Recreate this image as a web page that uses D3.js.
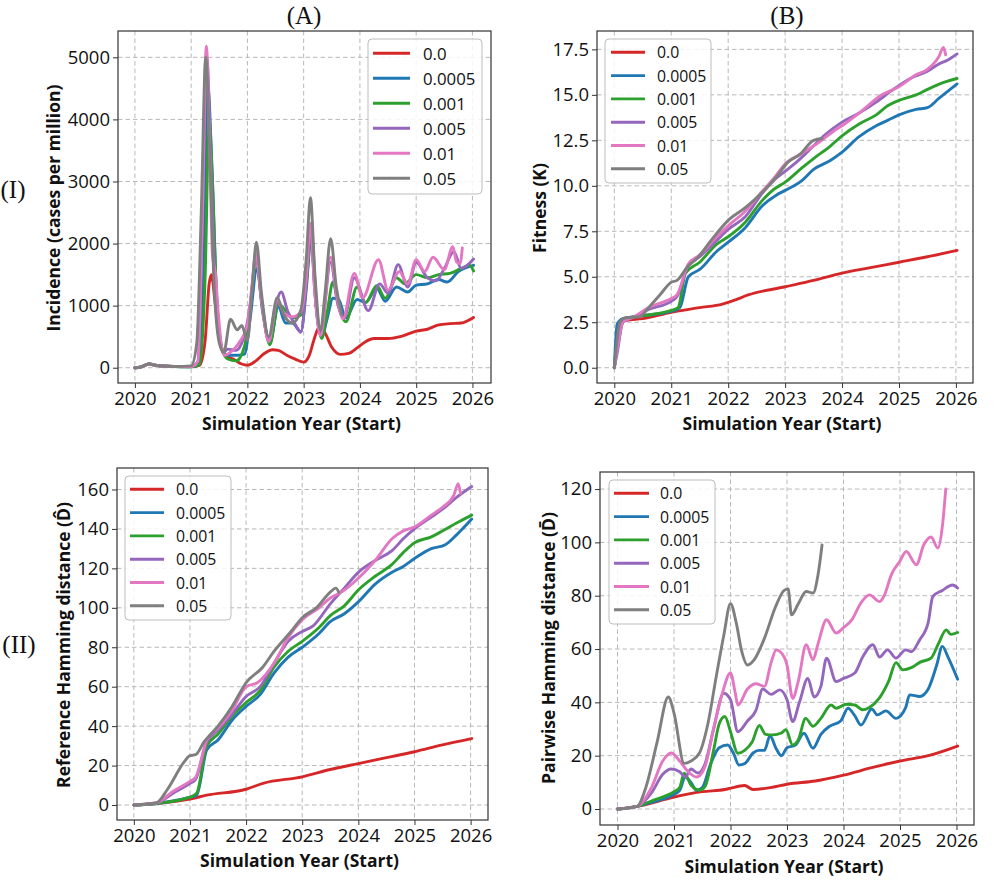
<!DOCTYPE html>
<html>
<head>
<meta charset="utf-8">
<style>
  body { margin: 0; background: #fff; }
  text { font-family: 'Open Sans', 'Noto Sans', sans-serif; fill: #111; }
</style>
</head>
<body>
<script src="https://d3js.org/d3.v7.min.js"></script>
<script>
const rates = ['0.0', '0.0005', '0.001', '0.005', '0.01', '0.05'];
const colors = ['#d62728', '#1f77b4', '#2ca02c', '#9467bd', '#e377c2', '#7f7f7f'];
const years = [2020, 2021, 2022, 2023, 2024, 2025, 2026];

// (A) incidence, cases per million  [year, value]
const incid00 = [[2020,0],[2020.1,10],[2020.25,55],[2020.4,35],[2020.7,20],[2021,20],[2021.15,40],[2021.25,450],[2021.32,1350],[2021.36,1500],[2021.42,1100],[2021.5,450],[2021.6,200],[2021.75,140],[2021.9,60],[2022,40],[2022.15,110],[2022.3,230],[2022.45,290],[2022.55,280],[2022.7,200],[2022.85,140],[2023,90],[2023.1,200],[2023.2,500],[2023.28,660],[2023.38,560],[2023.5,330],[2023.65,215],[2023.8,230],[2023.95,320],[2024.1,420],[2024.25,470],[2024.5,470],[2024.75,510],[2025,590],[2025.2,620],[2025.4,690],[2025.6,710],[2025.8,720],[2026.02,810]];
const incid0005 = [[2020,0],[2020.1,10],[2020.25,60],[2020.4,35],[2020.7,20],[2021,15],[2021.15,60],[2021.22,1500],[2021.3,4500],[2021.37,3200],[2021.45,1200],[2021.55,300],[2021.65,200],[2021.8,200],[2021.95,220],[2022.05,800],[2022.17,1600],[2022.27,900],[2022.4,420],[2022.55,980],[2022.68,720],[2022.8,720],[2022.95,580],[2023.05,1300],[2023.13,2100],[2023.22,1000],[2023.32,500],[2023.42,800],[2023.52,1120],[2023.62,1100],[2023.75,800],[2023.95,1100],[2024.1,1050],[2024.3,1280],[2024.45,1070],[2024.65,1300],[2024.85,1220],[2025,1330],[2025.2,1350],[2025.4,1420],[2025.55,1380],[2025.75,1550],[2026.02,1650]];
const incid001 = [[2020,0],[2020.1,10],[2020.25,60],[2020.4,35],[2020.7,20],[2021,15],[2021.15,50],[2021.25,1500],[2021.32,4000],[2021.38,3000],[2021.45,1200],[2021.55,300],[2021.65,140],[2021.8,110],[2021.95,350],[2022.05,1000],[2022.16,1750],[2022.25,1100],[2022.4,370],[2022.55,1030],[2022.65,950],[2022.8,800],[2022.95,850],[2023.05,1400],[2023.14,2200],[2023.22,1100],[2023.32,470],[2023.42,900],[2023.52,1380],[2023.62,1000],[2023.75,740],[2023.95,1300],[2024.1,1050],[2024.3,1320],[2024.45,1120],[2024.65,1450],[2024.8,1350],[2025,1500],[2025.2,1450],[2025.4,1500],[2025.6,1520],[2025.8,1600],[2025.95,1650],[2026.02,1560]];
const incid005 = [[2020,0],[2020.1,10],[2020.25,60],[2020.4,35],[2020.7,20],[2021,20],[2021.12,100],[2021.2,2300],[2021.28,5000],[2021.35,3300],[2021.42,1500],[2021.5,500],[2021.58,250],[2021.65,300],[2021.8,280],[2021.92,450],[2022.05,1000],[2022.15,1800],[2022.25,1100],[2022.38,430],[2022.48,900],[2022.6,1220],[2022.72,900],[2022.85,700],[2022.95,570],[2023.05,1400],[2023.12,2200],[2023.2,1200],[2023.3,520],[2023.48,1700],[2023.6,1050],[2023.72,800],[2023.9,1450],[2024.15,920],[2024.35,1350],[2024.5,1200],[2024.68,1660],[2024.85,1300],[2025,1700],[2025.2,1450],[2025.35,1400],[2025.5,1600],[2025.67,1870],[2025.8,1600],[2026.02,1750]];
const incid01 = [[2020,0],[2020.1,10],[2020.25,60],[2020.4,35],[2020.7,20],[2021,20],[2021.12,100],[2021.2,2500],[2021.27,5180],[2021.33,3500],[2021.38,1800],[2021.43,1530],[2021.48,900],[2021.55,300],[2021.6,200],[2021.7,250],[2021.85,400],[2022,700],[2022.08,1300],[2022.15,1850],[2022.25,1100],[2022.38,420],[2022.53,1100],[2022.65,880],[2022.8,820],[2022.95,900],[2023.05,1500],[2023.12,2330],[2023.2,1200],[2023.3,520],[2023.48,1780],[2023.6,1100],[2023.7,790],[2023.9,1520],[2024.05,1130],[2024.33,1740],[2024.5,1250],[2024.7,1550],[2024.85,1350],[2025,1740],[2025.15,1550],[2025.3,1780],[2025.5,1580],[2025.65,1950],[2025.72,1700],[2025.78,1680],[2025.82,1930]];
const incid05 = [[2020,0],[2020.1,10],[2020.25,60],[2020.4,35],[2020.7,20],[2021,30],[2021.1,400],[2021.18,2500],[2021.26,5000],[2021.33,3500],[2021.4,1500],[2021.5,400],[2021.58,250],[2021.7,780],[2021.82,610],[2021.9,680],[2022,440],[2022.08,1200],[2022.16,2020],[2022.25,1200],[2022.38,500],[2022.53,1130],[2022.65,850],[2022.8,720],[2022.95,930],[2023.05,1800],[2023.12,2740],[2023.2,1500],[2023.3,600],[2023.38,1200],[2023.48,2080],[2023.58,1300],[2023.68,850]];

// (B) fitness K
const fit00 = [[2020,0],[2020.1,2.2],[2020.2,2.6],[2020.5,2.7],[2021,3.05],[2021.5,3.3],[2021.9,3.5],[2022.1,3.7],[2022.35,4.0],[2023,4.45],[2023.5,4.8],[2024,5.2],[2024.5,5.5],[2025,5.8],[2025.5,6.1],[2026.02,6.45]];
const fit0005 = [[2020,0],[2020.05,2.4],[2020.15,2.7],[2020.35,2.8],[2020.6,2.9],[2021,3.1],[2021.15,3.3],[2021.3,5.0],[2021.5,5.4],[2021.8,6.4],[2022,6.9],[2022.3,7.7],[2022.6,8.9],[2022.85,9.5],[2023,9.75],[2023.3,10.3],[2023.5,10.9],[2023.8,11.4],[2024,11.85],[2024.3,12.7],[2024.6,13.3],[2024.8,13.6],[2025,13.9],[2025.3,14.2],[2025.5,14.3],[2025.7,14.8],[2026.02,15.6]];
const fit001 = [[2020,0],[2020.05,1.0],[2020.15,2.5],[2020.35,2.8],[2020.6,2.9],[2021,3.15],[2021.12,3.3],[2021.25,5.2],[2021.5,5.8],[2021.8,6.8],[2022,7.2],[2022.3,8.0],[2022.6,9.2],[2022.8,9.8],[2023,10.2],[2023.3,11.0],[2023.5,11.5],[2023.8,12.2],[2024,12.75],[2024.3,13.4],[2024.6,13.9],[2024.8,14.4],[2025,14.7],[2025.3,15.0],[2025.5,15.3],[2025.8,15.7],[2026.02,15.9]];
const fit005 = [[2020,0],[2020.05,0.8],[2020.15,2.5],[2020.35,2.8],[2020.6,3.2],[2021,3.65],[2021.1,3.9],[2021.3,5.6],[2021.5,6.1],[2021.8,7.0],[2022,7.6],[2022.3,8.3],[2022.6,9.6],[2022.8,10.3],[2023,10.8],[2023.2,11.3],[2023.5,12.2],[2023.7,12.8],[2024,13.5],[2024.3,14.0],[2024.6,14.6],[2024.9,15.3],[2025.2,15.9],[2025.5,16.3],[2025.7,16.7],[2025.85,16.9],[2026.02,17.25]];
const fit01 = [[2020,0],[2020.05,1.0],[2020.15,2.5],[2020.35,2.8],[2020.6,3.3],[2021,3.8],[2021.1,4.0],[2021.3,5.7],[2021.5,6.2],[2021.8,7.2],[2022,7.8],[2022.3,8.6],[2022.6,9.7],[2022.8,10.4],[2023,11.2],[2023.3,11.8],[2023.6,12.4],[2023.85,13.0],[2024,13.3],[2024.3,14.0],[2024.7,15.0],[2025,15.45],[2025.3,16.1],[2025.5,16.4],[2025.7,17.1],[2025.78,17.6],[2025.82,17.2]];
const fit05 = [[2020,0],[2020.1,2.5],[2020.2,2.75],[2020.45,2.8],[2020.6,3.3],[2020.8,4.0],[2021,4.7],[2021.1,4.8],[2021.3,5.6],[2021.45,6.0],[2021.7,7.0],[2022,8.1],[2022.3,8.8],[2022.45,9.2],[2022.65,9.8],[2022.85,10.5],[2023.05,11.3],[2023.25,11.7],[2023.5,12.5],[2023.65,12.6]];

// (C) reference Hamming distance
const ref00 = [[2020,0],[2020.4,0.8],[2021,3],[2021.3,5],[2022,8],[2022.3,11],[2023,14.3],[2023.5,18],[2024,21],[2024.5,24],[2025,27],[2025.5,30.5],[2026.02,33.7]];
const ref0005 = [[2020,0],[2020.4,0.8],[2021,4],[2021.12,5],[2021.3,28],[2021.5,33],[2021.75,43],[2022,50],[2022.25,56],[2022.5,67],[2022.75,75],[2023,80],[2023.3,87],[2023.5,93],[2023.75,97],[2024,103],[2024.3,112],[2024.6,118],[2024.8,121],[2025,125],[2025.3,130],[2025.55,132],[2025.75,137],[2026.02,145]];
const ref001 = [[2020,0],[2020.4,0.8],[2021,4],[2021.12,6],[2021.3,30],[2021.5,36],[2021.75,45],[2022,52],[2022.25,58],[2022.5,70],[2022.75,78],[2023,83],[2023.3,90],[2023.5,96],[2023.75,101],[2024,109],[2024.3,116],[2024.6,122],[2024.8,128],[2025,133],[2025.3,136],[2025.5,139],[2025.75,143],[2026.02,147]];
const ref005 = [[2020,0],[2020.4,1],[2020.7,6],[2021,11],[2021.1,13],[2021.3,32],[2021.5,38],[2021.75,46],[2022,55],[2022.25,60],[2022.5,72],[2022.75,83],[2023,88],[2023.2,91],[2023.5,102],[2023.75,110],[2024,118],[2024.3,124],[2024.6,129],[2024.8,135],[2025,140],[2025.3,146],[2025.5,150],[2025.75,156],[2026.02,161.5]];
const ref01 = [[2020,0],[2020.4,1],[2020.7,7],[2021,12],[2021.1,14],[2021.3,33],[2021.5,39],[2021.75,48],[2022,60],[2022.2,62],[2022.5,72],[2022.75,85],[2023,94],[2023.3,100],[2023.5,105],[2023.7,108],[2024,115],[2024.3,124],[2024.6,135],[2024.8,139],[2025,141],[2025.3,147],[2025.5,151],[2025.7,157],[2025.78,163],[2025.82,158]];
const ref05 = [[2020,0],[2020.4,1],[2020.6,8],[2020.9,22],[2021,25],[2021.1,25.5],[2021.25,32],[2021.5,40],[2021.75,50],[2022,62],[2022.3,70],[2022.5,78],[2022.8,88],[2023,95],[2023.25,100],[2023.5,108],[2023.6,110],[2023.65,108]];

// (D) pairwise Hamming distance
const pair00 = [[2020,0],[2020.35,1],[2021,4.5],[2021.5,6.5],[2021.9,7.3],[2022,7.8],[2022.25,8.8],[2022.4,7.3],[2022.7,8],[2023,9.3],[2023.5,10.5],[2024,12.7],[2024.5,15.5],[2025,18],[2025.5,20],[2026.02,23.6]];
const pair0005 = [[2020,0],[2020.35,1],[2020.6,2.5],[2021,5.5],[2021.1,7],[2021.2,12],[2021.3,10],[2021.4,7],[2021.5,8],[2021.65,17],[2021.8,23],[2021.95,24],[2022.05,21],[2022.15,16.5],[2022.25,17],[2022.4,21],[2022.5,22],[2022.6,22],[2022.7,27.5],[2022.8,23],[2022.9,20],[2023,23],[2023.15,24],[2023.3,28.4],[2023.46,22.8],[2023.6,28],[2023.75,31],[2023.95,33],[2024.08,37.8],[2024.2,35],[2024.31,31.5],[2024.5,37.5],[2024.6,35.3],[2024.75,36.8],[2024.93,34],[2025.1,38],[2025.17,42.8],[2025.35,42.2],[2025.5,45],[2025.65,54],[2025.75,61],[2025.85,57],[2026.02,48.7]];
const pair001 = [[2020,0],[2020.35,1],[2020.6,3],[2021,6.5],[2021.1,8],[2021.18,13.4],[2021.3,9],[2021.45,7.1],[2021.55,8.5],[2021.7,22],[2021.8,32],[2021.9,34.7],[2022,29],[2022.13,20.9],[2022.25,22],[2022.38,25],[2022.51,31.3],[2022.62,28],[2022.75,27.8],[2022.9,28.5],[2022.98,29.7],[2023.1,24],[2023.2,26],[2023.33,34],[2023.46,31],[2023.6,34],[2023.78,39],[2023.87,37.8],[2024.05,39.3],[2024.2,39],[2024.34,37.2],[2024.45,38],[2024.63,41.5],[2024.8,48],[2024.93,54.9],[2025.05,52.2],[2025.2,53],[2025.35,55],[2025.55,56.6],[2025.68,62],[2025.82,67.2],[2025.9,65.5],[2026.02,66.2]];
const pair005 = [[2020,0],[2020.35,1],[2020.6,6],[2020.8,13],[2020.95,15],[2021.1,14],[2021.2,12],[2021.3,15],[2021.42,13.5],[2021.55,17],[2021.7,30],[2021.88,43.4],[2022,41],[2022.13,29],[2022.3,33],[2022.45,37],[2022.57,45],[2022.72,43],[2022.87,44.7],[2023,41],[2023.1,32.8],[2023.22,40],[2023.37,49],[2023.48,42],[2023.6,46],[2023.7,56.6],[2023.87,47.8],[2024,49],[2024.2,51],[2024.34,57],[2024.52,61.6],[2024.64,57],[2024.78,59.7],[2024.93,56.6],[2025.1,59.7],[2025.2,59],[2025.35,63.5],[2025.5,70],[2025.58,79.7],[2025.75,82],[2025.93,84],[2026.02,82.9]];
const pair01 = [[2020,0],[2020.35,1],[2020.6,8],[2020.8,18],[2020.95,21],[2021.1,18],[2021.25,14],[2021.4,12],[2021.55,16],[2021.7,30],[2021.85,43],[2022,51],[2022.08,44],[2022.13,39],[2022.3,45],[2022.45,47],[2022.6,46],[2022.72,55],[2022.81,59.7],[2022.95,57],[2023,54],[2023.1,41.5],[2023.2,48],[2023.34,61.6],[2023.46,56],[2023.55,62],[2023.7,71],[2023.87,66],[2024,68],[2024.15,71],[2024.3,77],[2024.46,80.3],[2024.64,77.8],[2024.72,80],[2024.85,88],[2025,93],[2025.11,96.6],[2025.29,91.6],[2025.42,99],[2025.55,102],[2025.67,97.9],[2025.75,106],[2025.81,120]];
const pair05 = [[2020,0],[2020.35,1],[2020.5,8],[2020.7,25],[2020.9,42],[2021,36],[2021.18,17.1],[2021.3,18],[2021.45,21],[2021.6,32],[2021.75,50],[2021.88,65],[2022,77],[2022.1,70],[2022.2,59],[2022.3,54],[2022.42,56],[2022.6,64],[2022.8,76],[2022.95,82],[2023.02,82.5],[2023.08,72.8],[2023.2,77],[2023.34,81.6],[2023.46,81],[2023.55,88],[2023.62,99]];

const W = 996, H = 894;
const svg = d3.select('body').append('svg').attr('width', W).attr('height', H);

const panels = [
  { series: [incid00, incid0005, incid001, incid005, incid01, incid05],
    box: [118, 31, 491, 383], xDom: [2019.7, 2026.33], yDom: [-246, 5424],
    yTicks: d3.range(0, 5001, 1000), yFmt: d3.format('d'),
    ylabel: 'Incidence (cases per million)', yl: [53, 208], xl: 423,
    leg: { x: 368, y: 39, w: 114, h: 155, y0: 14.3, dy: 25, fs: 16.8, l0: 5, l1: 42, tx: 55 } },
  { series: [fit00, fit0005, fit001, fit005, fit01, fit05],
    box: [597, 31, 973, 383], xDom: [2019.696, 2026.3], yDom: [-0.84, 18.51],
    yTicks: d3.range(0, 17.6, 2.5), yFmt: d3.format('.1f'),
    ylabel: 'Fitness (K)', yl: [539, 208], xl: 423,
    leg: { x: 605, y: 39, w: 106, h: 144, y0: 13.3, dy: 23.3, fs: 15.8, l0: 6, l1: 40, tx: 52 } },
  { series: [ref00, ref0005, ref001, ref005, ref01, ref05],
    box: [117, 468, 488, 820], xDom: [2019.7, 2026.31], yDom: [-7.6, 170.9],
    yTicks: d3.range(0, 161, 20), yFmt: d3.format('d'),
    ylabel: 'Reference Hamming distance (D\u0302)', yl: [63, 645], xl: 860,
    leg: { x: 125, y: 476, w: 106, h: 144, y0: 13.3, dy: 23.3, fs: 15.8, l0: 5, l1: 39, tx: 51 } },
  { series: [pair00, pair0005, pair001, pair005, pair01, pair05],
    box: [600, 472, 974, 825], xDom: [2019.69, 2026.31], yDom: [-6.0, 126.4],
    yTicks: d3.range(0, 121, 20), yFmt: d3.format('d'),
    ylabel: 'Pairwise Hamming distance (D\u0304)', yl: [548, 648], xl: 866,
    leg: { x: 609, y: 480, w: 106, h: 144, y0: 13.3, dy: 23.3, fs: 15.8, l0: 5, l1: 40, tx: 51 } }
];

panels.forEach((p) => {
  const [x0, y0, x1, y1] = p.box;
  const x = d3.scaleLinear().domain(p.xDom).range([x0, x1]);
  const y = d3.scaleLinear().domain(p.yDom).range([y1, y0]);
  const g = svg.append('g');

  // grid
  g.append('g').selectAll('line.gx').data(years).enter().append('line')
    .attr('x1', (d) => x(d)).attr('x2', (d) => x(d)).attr('y1', y0).attr('y2', y1)
    .attr('stroke', '#b8b8b8').attr('stroke-width', 1).attr('stroke-dasharray', '4.5,3');
  g.append('g').selectAll('line.gy').data(p.yTicks).enter().append('line')
    .attr('x1', x0).attr('x2', x1).attr('y1', (d) => y(d)).attr('y2', (d) => y(d))
    .attr('stroke', '#b8b8b8').attr('stroke-width', 1).attr('stroke-dasharray', '4.5,3');

  // lines
  const line = d3.line().x((d) => x(d[0])).y((d) => y(d[1])).curve(d3.curveMonotoneX);
  g.append('g').selectAll('path').data(p.series).enter().append('path')
    .attr('d', line).attr('fill', 'none')
    .attr('stroke', (d, i) => colors[i]).attr('stroke-width', 2.9)
    .attr('stroke-linejoin', 'round').attr('stroke-linecap', 'round');

  // axes
  const ax = g.append('g').attr('transform', `translate(0,${y1})`)
    .call(d3.axisBottom(x).tickValues(years).tickFormat(d3.format('d')).tickSize(5).tickPadding(4));
  const ay = g.append('g').attr('transform', `translate(${x0},0)`)
    .call(d3.axisLeft(y).tickValues(p.yTicks).tickFormat(p.yFmt).tickSize(5).tickPadding(3));
  [ax, ay].forEach((a) => {
    a.select('.domain').remove();
    a.selectAll('line').attr('stroke', '#333');
    a.selectAll('text').attr('font-size', 18.5).attr('fill', '#111')
      .attr('font-family', "'Open Sans', sans-serif");
  });

  g.append('rect').attr('x', x0).attr('y', y0).attr('width', x1 - x0).attr('height', y1 - y0)
    .attr('fill', 'none').attr('stroke', '#333').attr('stroke-width', 1.2);

  // labels
  g.append('text').attr('x', (x0 + x1) / 2 - 3).attr('y', p.xl)
    .attr('text-anchor', 'middle').attr('dominant-baseline', 'central')
    .attr('font-weight', 'bold').attr('font-size', 17.5).text('Simulation Year (Start)');
  g.append('text').attr('transform', `translate(${p.yl[0]},${p.yl[1]}) rotate(-90)`)
    .attr('text-anchor', 'middle').attr('dominant-baseline', 'central')
    .attr('font-weight', 'bold').attr('font-size', 17.5).text(p.ylabel);

  // legend
  const L = p.leg;
  const lg = g.append('g').attr('transform', `translate(${L.x},${L.y})`);
  lg.append('rect').attr('width', L.w).attr('height', L.h).attr('rx', 4)
    .attr('fill', 'white').attr('fill-opacity', 0.85).attr('stroke', '#bdbdbd');
  const item = lg.selectAll('.legend').data(rates).enter().append('g')
    .attr('class', 'legend').attr('transform', (d, i) => `translate(0,${L.y0 + i * L.dy})`);
  item.append('line').attr('x1', L.l0).attr('x2', L.l1)
    .attr('stroke', (d, i) => colors[i]).attr('stroke-width', 2.9);
  item.append('text').attr('x', L.tx).attr('dominant-baseline', 'central')
    .attr('font-size', L.fs).text((d) => d);
});

// panel tags
const tags = [['(A)', 304, 24], ['(B)', 787, 24], ['(I)', 13, 198], ['(II)', 19, 653]];
svg.selectAll('.tag').data(tags).enter().append('text')
  .attr('class', 'tag').attr('x', (d) => d[1]).attr('y', (d) => d[2])
  .attr('text-anchor', 'middle').attr('font-size', 25)
  .style('font-family', "'Liberation Serif', 'DejaVu Serif', serif")
  .text((d) => d[0]);
</script>
</body>
</html>
